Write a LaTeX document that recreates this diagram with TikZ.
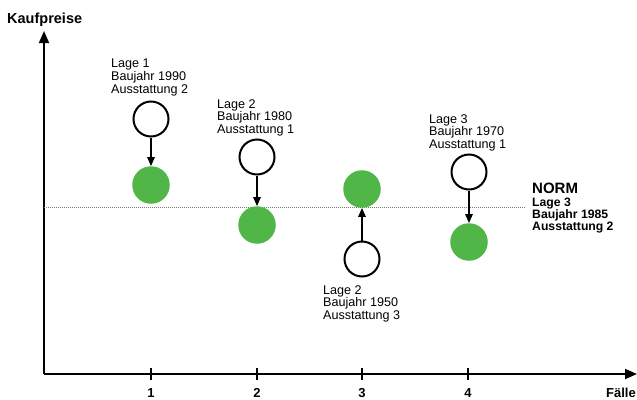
\documentclass[tikz,border=0pt]{standalone}
\usepackage{fontspec}
\setmainfont{Liberation Sans}
\usetikzlibrary{arrows.meta}
\definecolor{normgreen}{RGB}{80,182,72}
\definecolor{dotgray}{RGB}{120,120,120}
\begin{document}
\begin{tikzpicture}[x=1pt,y=-1pt,
  opencirc/.style={circle,draw=black,line width=2pt,fill=white,minimum size=35pt,inner sep=0pt},
  greencirc/.style={circle,fill=normgreen,draw=none,minimum size=37.5pt,inner sep=0pt},
  arr/.style={line width=1.5pt,-{Triangle[width=7.5pt,length=9pt]}},
  axisarr/.style={line width=1.9pt,-{Triangle[width=10pt,length=12pt]}},
  lbl/.style={anchor=north west,inner sep=0pt,align=left,font=\fontsize{12.6}{12.8}\selectfont},
  normlbl/.style={anchor=north west,inner sep=0pt,align=left,font=\fontsize{12.2}{12}\selectfont\bfseries},
  axlbl/.style={inner sep=0pt,font=\fontsize{13}{13}\selectfont\bfseries}]
\useasboundingbox (0,0) rectangle (637,399);
% axes
\coordinate (O) at (44,374);
\coordinate (ytop) at (44,31);
\coordinate (xend) at (637,374);
\draw[axisarr] (O) -- (ytop);
\draw[axisarr] (O) -- (xend);
\node[axlbl,anchor=north west,font=\fontsize{14.5}{14}\selectfont\bfseries] (kauf) at (7,13) {Kaufpreise};
\node[axlbl,anchor=north east] (faelle) at (636,388) {Fälle};
% ticks
\foreach \i/\x in {1/151,2/257,3/362,4/468}{
  \coordinate (ta\i) at (\x,368);
  \coordinate (tb\i) at (\x,380);
  \draw[line width=1.8pt] (ta\i) -- (tb\i);
  \node[axlbl,anchor=north] (tl\i) at (\x,388) {\i};
}
% norm line
\coordinate (n1) at (44,207);
\coordinate (n2) at (525,207);
\draw[dotgray,line width=0.9pt,dash pattern=on 1pt off 1pt] (n1) -- (n2);
% circles
\node[opencirc] (w1) at (151,119) {};
\node[greencirc] (g1) at (151,185) {};
\node[opencirc] (w2) at (257,157) {};
\node[greencirc] (g2) at (257,225) {};
\node[greencirc] (g3) at (362,189) {};
\node[opencirc] (w3) at (362,259) {};
\node[opencirc] (w4) at (469,172) {};
\node[greencirc] (g4) at (469,242) {};
% arrows
\draw[arr] (w1) -- (g1);
\draw[arr] (w2) -- (g2);
\draw[arr] (w3) -- (g3);
\draw[arr] (w4) -- (g4);
% labels
\node[lbl] (l1) at (111,59) {Lage 1\\Baujahr 1990\\Ausstattung 2};
\node[lbl] (l2) at (217,99) {Lage 2\\Baujahr 1980\\Ausstattung 1};
\node[lbl] (l3) at (323,285) {Lage 2\\Baujahr 1950\\Ausstattung 3};
\node[lbl] (l4) at (429,114) {Lage 3\\Baujahr 1970\\Ausstattung 1};
\node[anchor=north west,inner sep=0pt,font=\fontsize{15}{15}\selectfont\bfseries] (norm) at (532,183) {NORM};
\node[normlbl] (nl) at (532,198) {Lage 3\\Baujahr 1985\\Ausstattung 2};
\end{tikzpicture}
\end{document}
